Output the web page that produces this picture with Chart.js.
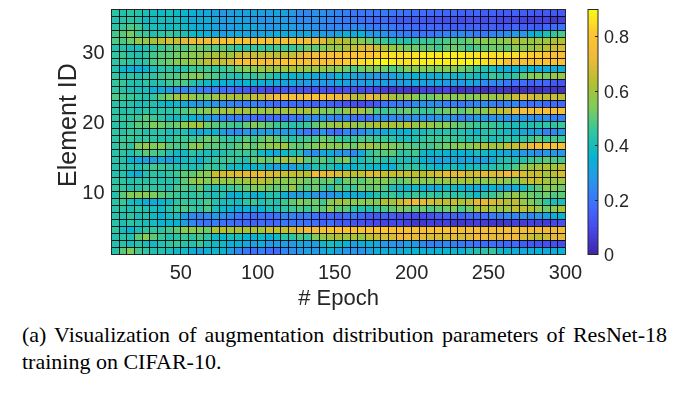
<!DOCTYPE html>
<html>
<head>
<meta charset="utf-8">
<script src="https://cdn.jsdelivr.net/npm/chart.js@4"></script>
<style>
    body { margin: 0; background: #fff; }
    #wrap { position: relative; width: 684px; height: 394px; overflow: hidden; }
    canvas { position: absolute; top: 0; }
    #caption {
        position: absolute; left: 22px; top: 321px; width: 645px;
        font: 22px/27px "Liberation Serif", serif; color: #000;
        text-align: justify;
    }
</style>
</head>
<body>
<div id="wrap">
    <canvas id="heatChart" width="600" height="310" style="left:0"></canvas>
    <canvas id="barChart" width="104" height="310" style="left:580px"></canvas>
    <div id="caption">(a) Visualization of augmentation distribution parameters of ResNet-18 training on CIFAR-10.</div>
</div>
<script>
// one list per element ID, read left to right (epoch 5 to 300)
const row01 = [.42,.50,.54,.47,.45,.42,.42,.40,.38,.38,.34,.30,.35,.37,.36,.30,.24,.20,.18,.22,.18,.17,.23,.26,.27,.30,.28,.32,.35,.30,.28,.27,.26,.30,.34,.34,.33,.33,.35,.36,.36,.34,.36,.36,.37,.35,.40,.42,.44,.46,.38,.36,.34,.33,.34,.36,.33,.34,.35];
const row02 = [.42,.43,.40,.43,.40,.38,.42,.44,.46,.43,.42,.46,.40,.38,.38,.34,.35,.33,.30,.34,.28,.29,.30,.28,.33,.30,.30,.38,.40,.38,.36,.30,.33,.34,.32,.28,.27,.26,.30,.28,.24,.22,.22,.24,.22,.20,.20,.19,.17,.18,.17,.16,.17,.14,.13,.12,.11,.11,.10];
const row03 = [.42,.44,.42,.50,.55,.50,.46,.42,.44,.46,.44,.47,.44,.38,.37,.40,.40,.36,.35,.38,.34,.38,.44,.44,.48,.46,.54,.58,.60,.62,.60,.62,.58,.65,.66,.68,.68,.72,.72,.70,.70,.68,.68,.68,.70,.68,.70,.72,.72,.70,.70,.72,.72,.68,.66,.64,.66,.70,.70];
const row04 = [.44,.40,.36,.40,.44,.45,.44,.47,.50,.56,.56,.54,.52,.62,.63,.60,.62,.61,.62,.60,.66,.65,.65,.68,.70,.73,.73,.77,.78,.78,.77,.77,.77,.78,.78,.80,.79,.78,.78,.78,.77,.78,.79,.78,.77,.76,.76,.75,.74,.75,.75,.76,.75,.74,.74,.74,.72,.72,.74];
const row05 = [.43,.41,.44,.42,.40,.39,.35,.36,.36,.30,.24,.20,.19,.22,.18,.18,.17,.16,.15,.17,.16,.17,.20,.19,.20,.18,.18,.15,.18,.13,.13,.12,.11,.10,.09,.08,.09,.10,.07,.05,.05,.07,.06,.07,.05,.05,.06,.07,.06,.05,.04,.05,.07,.06,.08,.07,.06,.09,.11];
const row06 = [.43,.42,.44,.40,.42,.38,.36,.39,.40,.30,.24,.23,.24,.28,.26,.24,.20,.19,.17,.19,.18,.18,.23,.22,.20,.21,.18,.16,.16,.15,.17,.20,.16,.14,.13,.15,.14,.11,.12,.10,.10,.11,.14,.14,.15,.15,.17,.17,.18,.20,.22,.24,.23,.27,.24,.28,.30,.34,.36];
const row07 = [.43,.44,.41,.44,.42,.40,.38,.43,.46,.48,.46,.44,.48,.40,.38,.36,.33,.36,.33,.36,.40,.42,.44,.46,.48,.46,.50,.50,.56,.50,.50,.44,.42,.42,.46,.48,.50,.54,.52,.50,.52,.48,.50,.52,.54,.48,.52,.60,.62,.60,.58,.60,.64,.64,.62,.58,.52,.56,.62];
const row08 = [.43,.46,.40,.37,.34,.33,.36,.38,.44,.46,.44,.44,.48,.42,.40,.40,.39,.44,.46,.42,.44,.42,.46,.50,.54,.52,.52,.47,.55,.60,.58,.56,.55,.56,.54,.63,.60,.66,.70,.72,.70,.68,.66,.64,.66,.62,.64,.70,.70,.68,.66,.62,.64,.58,.54,.50,.44,.40,.40];
const row09 = [.42,.50,.54,.56,.55,.54,.50,.48,.46,.44,.44,.46,.42,.40,.42,.34,.36,.39,.34,.36,.42,.42,.34,.30,.30,.32,.27,.26,.26,.30,.33,.34,.33,.38,.42,.44,.46,.42,.44,.46,.44,.46,.44,.46,.44,.44,.42,.38,.44,.46,.50,.54,.58,.54,.52,.50,.52,.48,.50];
const row10 = [.45,.45,.42,.43,.46,.44,.44,.42,.47,.48,.46,.50,.44,.42,.44,.46,.48,.50,.54,.54,.52,.50,.52,.58,.50,.48,.52,.46,.42,.50,.46,.46,.52,.50,.52,.48,.40,.38,.37,.38,.36,.33,.34,.38,.38,.36,.35,.33,.34,.36,.33,.32,.34,.38,.46,.50,.56,.54,.52];
const row11 = [.44,.44,.42,.44,.43,.44,.42,.43,.44,.50,.56,.58,.54,.60,.58,.58,.58,.60,.62,.64,.62,.58,.56,.56,.56,.52,.52,.50,.52,.44,.52,.52,.50,.54,.54,.56,.52,.50,.53,.58,.56,.56,.58,.58,.60,.60,.62,.58,.56,.58,.60,.56,.54,.62,.66,.65,.60,.58,.60];
const row12 = [.42,.43,.37,.33,.42,.44,.42,.44,.46,.50,.50,.54,.56,.66,.67,.68,.69,.70,.70,.71,.68,.68,.66,.65,.65,.63,.72,.70,.70,.68,.66,.64,.65,.69,.69,.65,.65,.66,.65,.64,.63,.66,.68,.70,.70,.70,.66,.68,.70,.69,.70,.72,.70,.68,.66,.66,.60,.64,.68];
const row13 = [.42,.44,.43,.42,.44,.47,.46,.44,.42,.42,.40,.42,.46,.44,.44,.38,.38,.36,.36,.38,.33,.30,.33,.28,.36,.33,.42,.42,.42,.36,.35,.36,.40,.38,.37,.36,.34,.42,.44,.44,.40,.39,.36,.38,.40,.37,.40,.40,.40,.42,.44,.44,.48,.56,.58,.60,.62,.60,.64];
const row14 = [.43,.42,.36,.32,.30,.30,.33,.30,.36,.38,.40,.36,.42,.45,.46,.47,.44,.42,.50,.52,.50,.54,.60,.58,.60,.50,.47,.50,.45,.50,.54,.42,.40,.44,.46,.42,.42,.42,.40,.40,.36,.33,.30,.32,.33,.31,.33,.30,.30,.33,.40,.42,.40,.42,.46,.47,.50,.48,.47];
const row15 = [.43,.44,.42,.46,.50,.48,.46,.42,.38,.38,.44,.42,.40,.40,.42,.44,.46,.46,.46,.38,.35,.32,.38,.40,.42,.28,.25,.32,.33,.28,.26,.24,.32,.44,.48,.50,.50,.44,.45,.47,.38,.36,.38,.36,.34,.36,.35,.40,.38,.36,.34,.33,.31,.28,.28,.25,.28,.27,.28];
const row16 = [.44,.47,.44,.54,.57,.54,.55,.50,.48,.48,.55,.57,.50,.50,.48,.47,.50,.53,.50,.54,.56,.58,.60,.52,.50,.52,.54,.57,.56,.56,.54,.52,.58,.60,.56,.56,.54,.52,.50,.48,.47,.47,.50,.52,.54,.55,.55,.58,.62,.60,.60,.64,.66,.68,.72,.75,.76,.77,.76];
const row17 = [.44,.46,.46,.44,.46,.44,.42,.43,.46,.46,.46,.48,.52,.50,.46,.45,.45,.50,.47,.50,.53,.50,.47,.43,.46,.47,.48,.52,.50,.46,.44,.46,.48,.48,.46,.46,.44,.40,.40,.42,.44,.46,.46,.47,.46,.44,.42,.43,.44,.40,.42,.44,.42,.44,.46,.50,.46,.48,.46];
const row18 = [.44,.43,.45,.45,.42,.43,.44,.40,.41,.42,.36,.33,.35,.36,.30,.26,.24,.27,.30,.30,.30,.30,.29,.31,.24,.20,.20,.27,.19,.17,.24,.22,.24,.30,.32,.33,.37,.35,.36,.40,.39,.42,.42,.43,.42,.42,.40,.37,.42,.43,.40,.38,.35,.33,.30,.30,.22,.24,.28];
const row19 = [.43,.44,.46,.50,.50,.54,.52,.50,.52,.56,.60,.62,.52,.50,.48,.47,.46,.50,.55,.52,.50,.46,.46,.43,.44,.46,.50,.54,.58,.60,.62,.58,.56,.60,.62,.62,.62,.60,.64,.58,.60,.58,.55,.56,.52,.50,.48,.46,.46,.46,.44,.42,.40,.41,.42,.43,.44,.44,.46];
const row20 = [.44,.45,.44,.46,.50,.46,.44,.40,.38,.40,.36,.33,.30,.28,.24,.22,.22,.20,.18,.16,.18,.19,.17,.20,.20,.26,.25,.28,.25,.22,.24,.19,.18,.18,.24,.25,.24,.24,.25,.26,.28,.26,.28,.27,.25,.22,.25,.28,.28,.26,.28,.26,.27,.28,.26,.25,.26,.22,.22];
const row21 = [.44,.42,.44,.42,.44,.42,.44,.44,.46,.48,.52,.54,.56,.58,.60,.60,.62,.60,.60,.58,.60,.61,.60,.62,.60,.62,.60,.54,.54,.52,.58,.62,.60,.56,.48,.46,.48,.50,.52,.48,.46,.46,.50,.52,.54,.50,.54,.56,.56,.63,.65,.66,.72,.76,.76,.76,.77,.76,.76];
const row22 = [.43,.44,.42,.40,.41,.42,.38,.36,.38,.33,.30,.28,.30,.27,.25,.23,.22,.21,.23,.20,.19,.17,.18,.17,.17,.16,.15,.18,.15,.14,.12,.11,.10,.12,.13,.19,.20,.20,.20,.25,.26,.25,.25,.22,.22,.20,.22,.23,.25,.22,.20,.22,.24,.20,.18,.20,.16,.17,.16];
const row23 = [.48,.47,.46,.45,.42,.45,.50,.54,.60,.62,.58,.55,.54,.60,.62,.62,.62,.62,.66,.66,.70,.74,.74,.77,.76,.78,.78,.76,.75,.72,.70,.64,.63,.72,.68,.66,.62,.58,.60,.56,.52,.52,.56,.58,.55,.58,.55,.56,.60,.58,.60,.62,.66,.69,.68,.66,.64,.66,.64];
const row24 = [.45,.43,.41,.40,.40,.35,.33,.30,.26,.24,.26,.22,.21,.22,.18,.18,.15,.13,.12,.11,.09,.10,.13,.12,.12,.11,.11,.12,.10,.10,.11,.12,.10,.11,.09,.07,.05,.06,.05,.05,.08,.07,.07,.09,.05,.04,.05,.05,.03,.04,.05,.04,.03,.03,.04,.03,.05,.04,.03];
const row25 = [.45,.46,.42,.42,.44,.42,.43,.46,.48,.48,.43,.40,.38,.37,.35,.34,.33,.36,.36,.34,.33,.33,.30,.33,.30,.28,.28,.29,.28,.32,.30,.28,.29,.30,.29,.30,.28,.30,.30,.32,.31,.30,.32,.28,.30,.28,.32,.30,.25,.24,.24,.20,.18,.18,.15,.17,.16,.13,.12];
const row26 = [.45,.42,.44,.42,.44,.44,.47,.48,.48,.52,.54,.56,.50,.48,.44,.43,.42,.45,.44,.47,.44,.40,.38,.36,.37,.35,.33,.33,.30,.37,.33,.32,.30,.30,.28,.28,.30,.34,.34,.36,.36,.34,.35,.38,.37,.38,.40,.38,.38,.46,.44,.42,.44,.50,.54,.56,.52,.58,.58];
const row27 = [.42,.37,.35,.33,.36,.40,.43,.44,.42,.43,.46,.46,.47,.45,.46,.48,.52,.55,.56,.58,.60,.58,.60,.62,.60,.58,.60,.58,.56,.56,.52,.48,.52,.54,.54,.52,.48,.50,.55,.55,.55,.54,.54,.55,.56,.52,.50,.46,.42,.40,.34,.34,.35,.35,.36,.33,.34,.34,.34];
const row28 = [.44,.46,.44,.43,.44,.48,.50,.52,.55,.56,.58,.60,.64,.66,.66,.68,.77,.77,.77,.76,.75,.76,.80,.81,.78,.78,.77,.78,.78,.80,.82,.83,.85,.86,.88,.90,.88,.86,.86,.87,.88,.88,.88,.88,.88,.88,.89,.88,.86,.84,.84,.78,.76,.77,.78,.79,.79,.78,.78];
const row29 = [.45,.46,.43,.42,.44,.47,.50,.50,.52,.54,.56,.56,.60,.62,.62,.60,.66,.68,.66,.66,.67,.64,.66,.66,.70,.72,.75,.76,.76,.78,.79,.80,.80,.80,.82,.84,.86,.85,.85,.86,.87,.87,.87,.88,.88,.87,.86,.86,.86,.85,.86,.86,.85,.84,.82,.82,.78,.76,.76];
const row30 = [.42,.43,.40,.40,.42,.44,.46,.48,.50,.48,.52,.52,.50,.48,.50,.47,.44,.43,.45,.46,.45,.47,.46,.45,.48,.52,.50,.54,.58,.58,.62,.65,.68,.70,.66,.62,.58,.56,.52,.52,.50,.50,.46,.50,.52,.50,.46,.48,.50,.52,.52,.50,.55,.56,.58,.60,.63,.66,.68];
const row31 = [.48,.48,.52,.58,.58,.62,.64,.68,.66,.70,.73,.73,.74,.74,.77,.78,.78,.78,.76,.77,.77,.75,.77,.77,.75,.75,.72,.70,.63,.64,.62,.58,.56,.52,.47,.46,.42,.43,.42,.44,.46,.46,.47,.48,.50,.49,.52,.55,.56,.54,.56,.58,.62,.60,.58,.60,.58,.62,.62];
const row32 = [.47,.50,.53,.47,.46,.42,.44,.46,.44,.41,.38,.36,.34,.33,.30,.32,.33,.31,.31,.30,.32,.34,.33,.32,.31,.32,.29,.30,.28,.31,.34,.33,.35,.28,.28,.26,.24,.22,.21,.20,.19,.19,.21,.22,.24,.25,.23,.21,.20,.22,.24,.25,.28,.28,.34,.37,.41,.45,.48];
const row33 = [.43,.46,.48,.47,.40,.40,.39,.38,.40,.38,.35,.34,.33,.31,.30,.29,.30,.33,.32,.30,.27,.28,.30,.30,.27,.27,.26,.24,.23,.24,.22,.24,.24,.21,.20,.22,.20,.18,.18,.17,.16,.17,.16,.15,.14,.15,.15,.16,.14,.15,.13,.14,.16,.14,.15,.13,.16,.17,.19];
const row34 = [.42,.43,.44,.42,.38,.38,.40,.39,.39,.36,.33,.33,.34,.32,.29,.31,.32,.30,.29,.26,.28,.30,.28,.27,.24,.25,.26,.25,.23,.22,.20,.20,.18,.18,.16,.17,.15,.13,.13,.14,.13,.12,.12,.11,.12,.10,.11,.11,.10,.12,.09,.09,.09,.08,.07,.08,.08,.05,.07];
const row35 = [.44,.42,.44,.43,.41,.39,.38,.40,.38,.37,.35,.33,.32,.30,.28,.29,.31,.30,.31,.30,.29,.31,.30,.28,.25,.24,.26,.26,.24,.24,.22,.20,.20,.21,.20,.21,.20,.20,.19,.18,.18,.17,.17,.16,.17,.15,.15,.16,.14,.15,.14,.14,.15,.14,.14,.13,.13,.13,.13];
const rows = [row01,row02,row03,row04,row05,row06,row07,row08,row09,row10,row11,row12,row13,row14,row15,row16,row17,row18,row19,row20,row21,row22,row23,row24,row25,row26,row27,row28,row29,row30,row31,row32,row33,row34,row35];

const epochTicks = [50, 100, 150, 200, 250, 300];
const elementTicks = [10, 20, 30];
const barTicks = [0, 0.2, 0.4, 0.6, 0.8];
const vMax = 0.9;

// parula, 11 evenly spaced stops
const parula = [
    [62, 38, 168], [71, 71, 235], [62, 111, 255], [39, 150, 235], [8, 181, 208],
    [49, 198, 159], [129, 204, 89], [180, 192, 48], [240, 186, 58], [254, 198, 48], [249, 251, 21]
];

function colorFor(v) {
    const t = Math.min(Math.max(v / vMax, 0), 1) * (parula.length - 1);
    const i = Math.min(Math.floor(t), parula.length - 2);
    const f = t - i;
    const c = parula[i].map((a, k) => Math.round(a + (parula[i + 1][k] - a) * f));
    return `rgb(${c[0]},${c[1]},${c[2]})`;
}

const fontFamily = '"Liberation Sans", sans-serif';
const inkColor = '#262626';
const cellLine = 'rgba(0,0,0,0.85)';

// the axis sizes are fixed, labels may hang over the plot edges
function fixBox(scale, width, height) {
    if (width) scale.width = width;
    if (height) scale.height = height;
    scale.paddingLeft = scale.paddingRight = scale.paddingTop = scale.paddingBottom = 0;
}

// box round the plot area
const framePlugin = {
    id: 'frame',
    afterDraw(chart) {
        const a = chart.chartArea;
        chart.ctx.save();
        chart.ctx.strokeStyle = inkColor;
        chart.ctx.lineWidth = 1;
        chart.ctx.strokeRect(a.left, a.top, a.width, a.height);
        chart.ctx.restore();
    }
};

const heatDatasets = rows.map((values, r) => ({
    data: values.map((v, c) => ({ x: 7.5 + 5 * c, y: [r + 1, r + 2] })),
    backgroundColor: values.map(colorFor),
    borderWidth: 0,
    inflateAmount: 0.5,
    grouped: false,
    barPercentage: 1,
    categoryPercentage: 1
}));

new Chart(document.getElementById('heatChart').getContext('2d'), {
    type: 'bar',
    data: { datasets: heatDatasets },
    plugins: [framePlugin],
    options: {
        responsive: false,
        animation: false,
        events: [],
        layout: { autoPadding: false, padding: { top: 9.5, right: 34.5, left: 0, bottom: 0 } },
        plugins: { legend: { display: false }, tooltip: { enabled: false } },
        scales: {
            x: {
                type: 'linear',
                offset: false,
                min: 5,
                max: 300,
                // a tick at every cell edge draws the black cell lines
                ticks: {
                    stepSize: 5,
                    font: { family: fontFamily, size: 20 },
                    color: inkColor,
                    padding: 7,
                    maxRotation: 0,
                    autoSkip: false,
                    callback: v => epochTicks.includes(v) ? String(v) : ''
                },
                afterFit: s => fixBox(s, 0, 55.5),
                grid: { offset: false, drawTicks: false, color: cellLine, z: 1 },
                border: { display: false },
                title: { display: true, text: '# Epoch', font: { family: fontFamily, size: 22, lineHeight: 1 }, color: inkColor, padding: { top: 1, bottom: 0 } }
            },
            y: {
                type: 'linear',
                min: 1,
                max: 36,
                ticks: {
                    stepSize: 1,
                    font: { family: fontFamily, size: 20 },
                    color: inkColor,
                    padding: 7,
                    labelOffset: 2,
                    autoSkip: false,
                    callback: v => elementTicks.includes(v) ? String(v) : ''
                },
                afterFit: s => fixBox(s, 111.5, 0),
                grid: { drawTicks: false, color: cellLine, z: 1 },
                border: { display: false },
                title: { display: true, text: '  Element ID', font: { family: fontFamily, size: 25 }, color: inkColor, padding: { top: 54, bottom: 0 } }
            }
        }
    }
});

// colour bar: one thin bar per colour level
const barLevels = Array.from({ length: 64 }, (_, i) => i);

new Chart(document.getElementById('barChart').getContext('2d'), {
    type: 'bar',
    data: {
        labels: ['level'],
        datasets: barLevels.map(i => ({
            data: [[i / 64 * vMax, (i + 1) / 64 * vMax]],
            backgroundColor: colorFor((i + 0.5) / 64 * vMax),
            grouped: false,
            barPercentage: 1,
            categoryPercentage: 1,
            inflateAmount: 0.6
        }))
    },
    plugins: [framePlugin],
    options: {
        responsive: false,
        animation: false,
        events: [],
        layout: { autoPadding: false, padding: { top: 9.5, left: 8, right: 0, bottom: 55.5 } },
        plugins: { legend: { display: false }, tooltip: { enabled: false } },
        scales: {
            x: { display: false },
            y: {
                position: 'right',
                min: 0,
                max: vMax,
                afterBuildTicks: s => { s.ticks = barTicks.map(v => ({ value: v })); },
                afterFit: s => fixBox(s, 86, 0),
                grid: { drawOnChartArea: false, tickLength: -3, color: inkColor, z: 1 },
                border: { display: false },
                ticks: { font: { family: fontFamily, size: 18 }, color: inkColor, padding: 9, labelOffset: 1.5, autoSkip: false, callback: v => String(v) }
            }
        }
    }
});
</script>
</body>
</html>
